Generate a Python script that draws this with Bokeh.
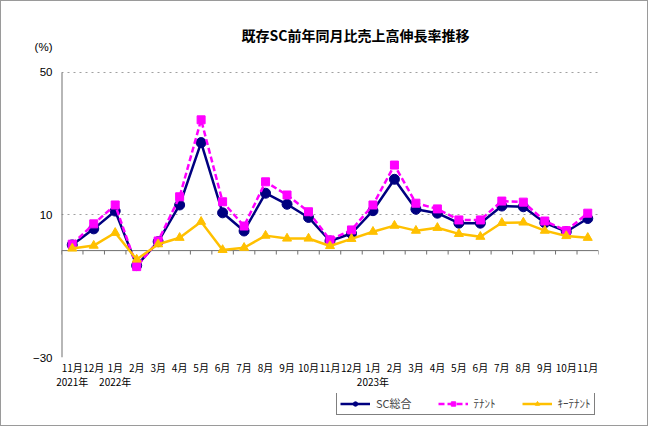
from bokeh.plotting import figure
from bokeh.layouts import column
from bokeh.models import Range1d, FixedTicker, Label, Legend, LegendItem
from bokeh.embed import file_html
from bokeh.resources import INLINE

title_text = "既存SC前年同月比売上高伸長率推移"
unit_text = "(%)"
months = ["11月", "12月", "1月", "2月", "3月", "4月", "5月", "6月", "7月", "8月", "9月", "10月", "11月",
          "12月", "1月", "2月", "3月", "4月", "5月", "6月", "7月", "8月", "9月", "10月", "11月"]
years = {0: "2021年", 2: "2022年", 14: "2023年"}
sc_total = [1.6, 6.1, 11.1, -4.2, 2.5, 12.8, 30.3, 10.6, 5.5, 16.1, 13.0, 9.3, 2.7,
            4.8, 11.2, 20.0, 11.6, 10.5, 7.7, 7.7, 12.5, 12.3, 7.8, 5.3, 9.0]
tenant = [1.8, 7.5, 12.8, -4.5, 2.7, 15.1, 36.7, 13.7, 6.9, 19.3, 15.6, 10.9, 3.0,
          5.8, 12.8, 24.0, 13.3, 11.7, 8.6, 8.6, 13.9, 13.6, 8.3, 5.6, 10.5]
key_tenant = [0.6, 1.4, 5.0, -2.5, 1.8, 3.6, 8.1, 0.2, 0.8, 4.2, 3.4, 3.4, 1.3,
              3.3, 5.3, 7.0, 5.6, 6.4, 4.7, 3.9, 7.8, 7.9, 5.6, 4.1, 3.6]
y_min, y_max = -30, 50
y_ticks = [-30, 10, 50]
series_names = ["SC総合", "ﾃﾅﾝﾄ", "ｷｰﾃﾅﾝﾄ"]
colors = ["#000080", "#FF00FF", "#FFC000"]
dashes = ["solid", "6 3", "solid"]
markers = ["circle", "square", "triangle"]
marker_sizes = [10, 8, 9]
series = [sc_total, tenant, key_tenant]

JP = "Noto Sans CJK JP"
n = len(months)
xs = list(range(n))

# frame extends above the value range to hold the title; the value range keeps its scale
y_top = 68.5
unit_pos = 57

p = figure(frame_width=537, frame_height=351,
           x_range=Range1d(-0.5, n - 0.5), y_range=Range1d(y_min, y_top),
           output_backend="svg", toolbar_location=None,
           min_border_left=60, min_border_right=49, min_border_top=5, min_border_bottom=36)
p.outline_line_color = None
p.background_fill_color = "white"
p.border_fill_color = "white"

# x axis
p.xaxis.ticker = FixedTicker(ticks=xs)
p.xaxis.major_label_overrides = {i: months[i] + ("\n" + years[i] if i in years else "") for i in xs}
p.xaxis.axis_line_color = None
p.xaxis.major_tick_line_color = None
p.xaxis.minor_tick_line_color = None
p.xaxis.major_tick_out = 0
p.xaxis.major_tick_in = 0
p.xaxis.major_label_standoff = 2
p.xaxis.major_label_text_font = JP
p.xaxis.major_label_text_font_size = "10px"
p.xaxis.major_label_text_line_height = 0.95
p.xaxis.major_label_text_color = "black"

# y axis (unit shown as the label of the top tick)
p.yaxis.ticker = FixedTicker(ticks=y_ticks + [unit_pos])
p.yaxis.major_label_overrides = {unit_pos: unit_text}
p.yaxis.axis_line_color = None
p.yaxis.major_tick_line_color = None
p.yaxis.major_tick_out = 0
p.yaxis.major_tick_in = 0
p.yaxis.minor_tick_line_color = None
p.yaxis.major_label_standoff = 9
p.yaxis.major_label_text_font = "Liberation Sans"
p.yaxis.major_label_text_font_size = "11.5px"
p.yaxis.major_label_text_color = "black"

p.xgrid.visible = False
p.ygrid.ticker = FixedTicker(ticks=y_ticks)
p.ygrid.grid_line_color = "#a0a0a0"
p.ygrid.grid_line_dash = "dotted"

# value axis line from -30 to 50
p.segment(x0=[-0.5], y0=[y_min], x1=[-0.5], y1=[y_max], line_color="#707070", line_width=2)

# zero line with category ticks
p.segment(x0=[-0.5], y0=[0], x1=[n - 0.5], y1=[0], line_color="#707070", line_width=1)
bounds = [k - 0.5 for k in range(n + 1)]
p.segment(x0=bounds, y0=[0] * len(bounds), x1=bounds, y1=[-1.1] * len(bounds),
          line_color="#707070", line_width=1)

# series
for vals, c, d, mk, ms in zip(series, colors, dashes, markers, marker_sizes):
    p.line(xs, vals, line_color=c, line_width=2.5, line_dash=d)
    p.scatter(xs, vals, marker=mk, size=ms, fill_color=c, line_color=c)

# title
p.add_layout(Label(x=13.19, y=60.6, text=title_text, text_align="center", text_baseline="middle",
                   text_font=JP, text_font_size="14px", text_font_style="bold", text_color="black"))

# legend strip below the chart (same series, drawn off-range so only the key shows)
lg = figure(width=646, height=32, x_range=Range1d(-0.5, n - 0.5), y_range=Range1d(1000, 1001),
            x_axis_location=None, y_axis_location=None, min_border=0,
            output_backend="svg", toolbar_location=None)
lg.outline_line_color = None
lg.xgrid.visible = False
lg.ygrid.visible = False
lg.background_fill_color = "white"
lg.border_fill_color = "white"
items = []
for name, vals, c, d, mk, ms in zip(series_names, series, colors, dashes, markers, marker_sizes):
    r1 = lg.line(xs, vals, line_color=c, line_width=2.5, line_dash=d)
    r2 = lg.scatter(xs, vals, marker=mk, size=ms - 1, fill_color=c, line_color=c)
    items.append(LegendItem(label=name, renderers=[r1, r2]))
legend = Legend(items=items, orientation="horizontal", location=(275, 10), margin=0, padding=3,
                spacing=26, glyph_width=30, glyph_height=11, label_height=11,
                label_standoff=6, label_text_font=JP, label_text_font_size="11px",
                border_line_color="black", border_line_width=1,
                background_fill_color="white", background_fill_alpha=1.0)
lg.add_layout(legend, "center")

layout = column(p, lg, spacing=0)
layout.styles = {"border": "1px solid #9a9a9a"}

open("out.html", "w").write(file_html(layout, INLINE))
